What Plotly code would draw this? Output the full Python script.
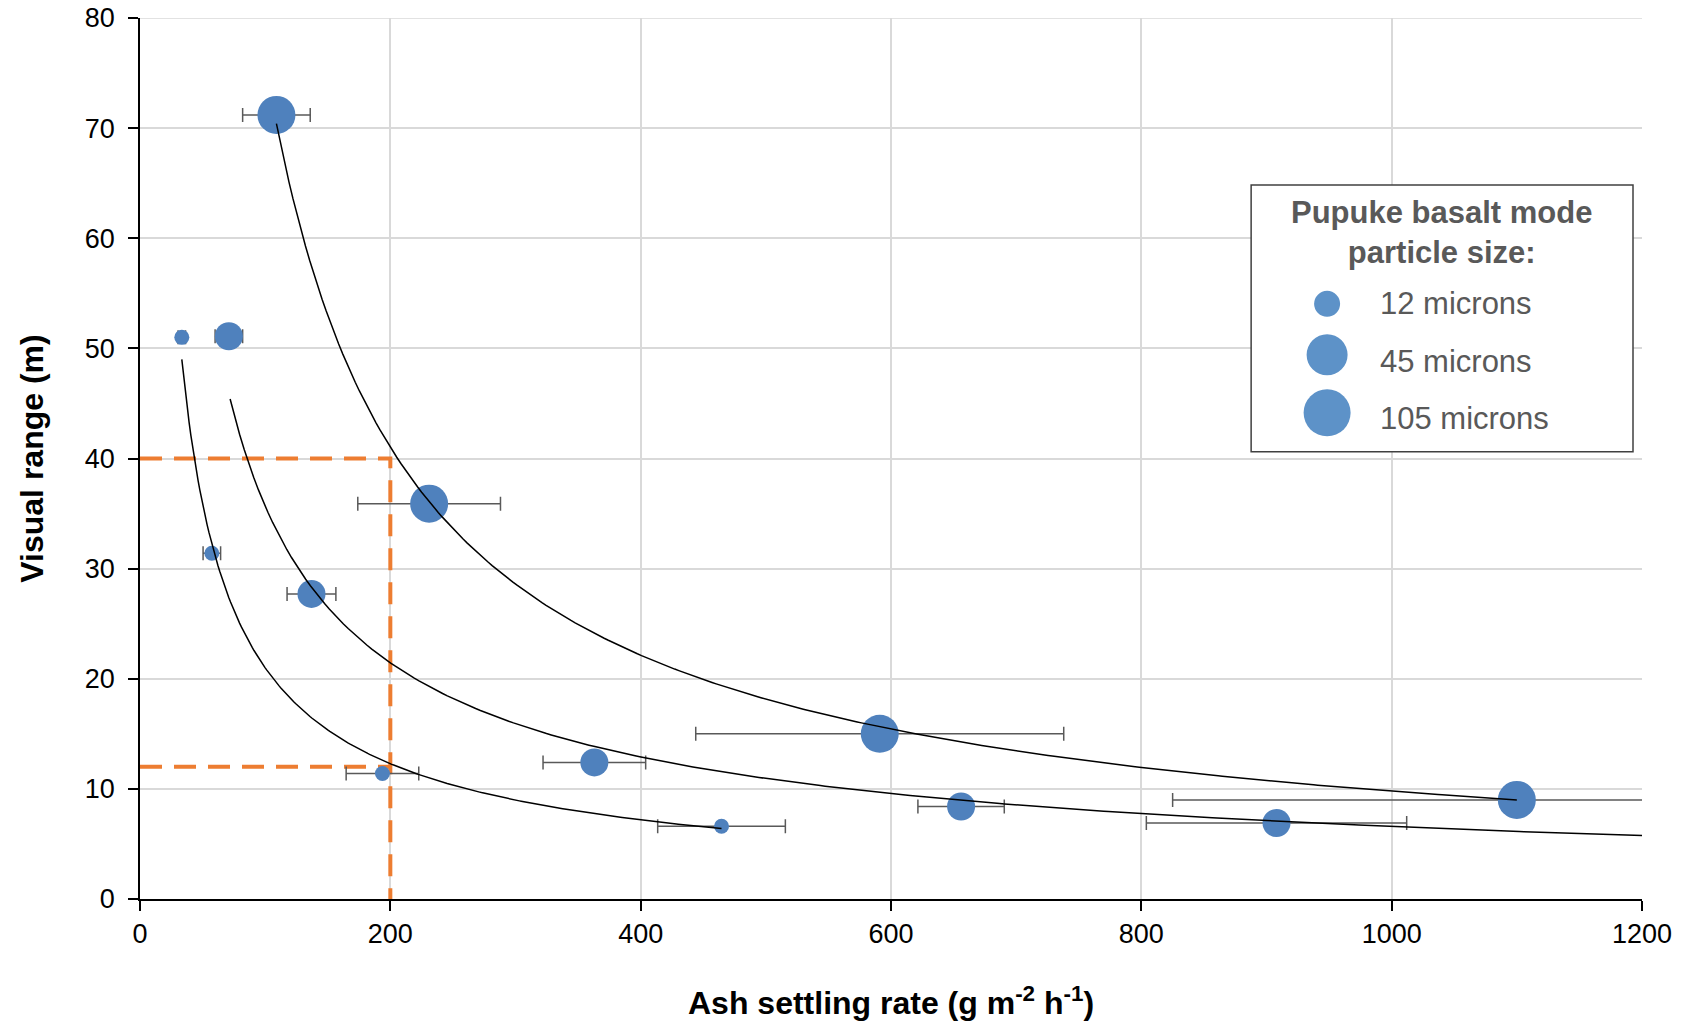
import numpy as np
import plotly.graph_objects as go

# ---- data ----
# 105 micron
large_x = [109, 231, 591, 1100]
large_y = [71.2, 35.9, 15.0, 9.0]
large_err = [27, 57, 147, 275]
# 45 micron
med_x = [71, 137, 363, 656, 908]
med_y = [51.1, 27.7, 12.4, 8.4, 6.9]
med_err = [11, 19.5, 41, 34.5, 104]
# 12 micron
small_x = [33.4, 57.4, 193.7, 464.6]
small_y = [51.0, 31.4, 11.4, 6.6]
small_err = [3, 7, 29, 51]

# power-law trend lines y = a * x^b, with x-extent
trend_a = [738, 1048, 4581]
trend_b = [-0.773, -0.734, -0.89]
trend_xmin = [33.4, 72, 109]
trend_xmax = [464.6, 1200, 1100]

# reference guide lines (orange dashed)
guide_x = [0, 200, 200]
guide_y_hi = [40, 40, 0]
guide12_x = [0, 200]
guide12_y = [12, 12]

legend_labels = ["12 microns", "45 microns", "105 microns"]

x_ticks = [0, 200, 400, 600, 800, 1000, 1200]
y_ticks = [0, 10, 20, 30, 40, 50, 60, 70, 80]

x_title = "<b>Ash settling rate (g m<sup>-2</sup> h<sup>-1</sup>)</b>"
y_title = "<b>Visual range (m)</b>"

# ---- geometry (page pixels) ----
W, H = 1683, 1025
ML, MR, MT, MB = 139.5, 41, 18, 125.5   # plot area margins
PW, PH = W - ML - MR, H - MT - MB

BLUE = "#4F81BD"
ERR = "#595959"
ORANGE = "#ED7D31"
FONT = "Liberation Sans, Arial"

fig = go.Figure()

# top gridline at the range edge
fig.add_shape(type="line", xref="x", yref="y", x0=0, x1=1200, y0=80, y1=80,
              line=dict(color="#d9d9d9", width=1.5), layer="below")

for gx, gy in [(guide_x, guide_y_hi), (guide12_x, guide12_y)]:
    fig.add_trace(go.Scatter(x=gx, y=gy, mode="lines",
                             line=dict(color=ORANGE, width=4, dash="22px,12px"),
                             hoverinfo="skip", showlegend=False))

for xs, ys, es, sz in [(small_x, small_y, small_err, 15),
                       (med_x, med_y, med_err, 28),
                       (large_x, large_y, large_err, 38)]:
    fig.add_trace(go.Scatter(
        x=xs, y=ys, mode="markers",
        marker=dict(color=BLUE, size=sz, line=dict(width=0)),
        error_x=dict(type="data", array=es, visible=True, color=ERR,
                     thickness=1.5, width=7),
        showlegend=False))

for a, b, x0, x1 in zip(trend_a, trend_b, trend_xmin, trend_xmax):
    xx = np.linspace(x0, x1, 300)
    fig.add_trace(go.Scatter(x=xx, y=a * xx ** b, mode="lines",
                             line=dict(color="black", width=1.5),
                             hoverinfo="skip", showlegend=False))

# ---- custom legend ----
def px2paper(px, py):
    return (px - ML) / PW, (H - MB - py) / PH

bx0, by0 = px2paper(1251, 185)
bx1, by1 = px2paper(1633, 452)
fig.add_shape(type="rect", xref="paper", yref="paper",
              x0=bx0, x1=bx1, y0=by1, y1=by0,
              line=dict(color="#404040", width=1.5),
              fillcolor="white", layer="above")
tx, ty = px2paper(1441, 233)
fig.add_annotation(xref="paper", yref="paper", x=tx, y=ty,
                   text="<b>Pupuke basalt mode<br>particle size:</b>",
                   showarrow=False, xanchor="center", yanchor="middle",
                   font=dict(family=FONT, size=31, color="#595959"),
                   align="center")
marker_y = [304, 355, 413]
text_y = [304, 362, 419]
item_d = [26, 41, 47]
for lab, my, tyy, d in zip(legend_labels, marker_y, text_y, item_d):
    cx, cy = px2paper(1327, my)
    fig.add_shape(type="circle", xref="paper", yref="paper",
                  xsizemode="pixel", ysizemode="pixel",
                  xanchor=cx, yanchor=cy,
                  x0=-d / 2, x1=d / 2, y0=-d / 2, y1=d / 2,
                  fillcolor="#5D92C8", line=dict(width=0), layer="above")
    lx, ly = px2paper(1378, tyy)
    fig.add_annotation(xref="paper", yref="paper", x=lx, y=ly,
                       text=lab, showarrow=False, xanchor="left",
                       yanchor="middle",
                       font=dict(family=FONT, size=31, color="#595959"))

# x-axis title placed explicitly
xtx, xty = px2paper(891, 1002)
fig.add_annotation(xref="paper", yref="paper", x=0.5, y=xty,
                   text=x_title, showarrow=False, xanchor="center",
                   yanchor="middle",
                   font=dict(family=FONT, size=32, color="black"))

fig.update_layout(
    width=W, height=H,
    margin=dict(l=ML, r=MR, t=MT, b=MB, pad=0, autoexpand=False),
    paper_bgcolor="white", plot_bgcolor="white",
    font=dict(family=FONT, color="black"),
    showlegend=False,
    xaxis=dict(range=[0, 1200], tickvals=x_ticks, automargin=False,
               showgrid=True, gridcolor="#d9d9d9", gridwidth=1.5,
               showline=True, linecolor="black", linewidth=1.5,
               ticks="outside", ticklen=10, tickcolor="black", tickwidth=1.5,
               tickfont=dict(size=27, color="black"),
               ticklabeloverflow="allow",
               zeroline=False),
    yaxis=dict(range=[0, 80], tickvals=y_ticks, automargin=False,
               showgrid=True, gridcolor="#d9d9d9", gridwidth=1.5,
               showline=True, linecolor="black", linewidth=1.5,
               ticks="outside", ticklen=10, tickcolor="black", tickwidth=1.5,
               tickfont=dict(size=27, color="black"), ticklabelstandoff=8,
               ticklabeloverflow="allow",
               zeroline=False,
               title=dict(text=y_title,
                          font=dict(size=32, color="black"), standoff=32)),
)

fig.write_html("out.html",
               config={"displayModeBar": False},
               post_script="document.body.style.margin='0';"
                           "document.body.style.overflow='hidden';")
